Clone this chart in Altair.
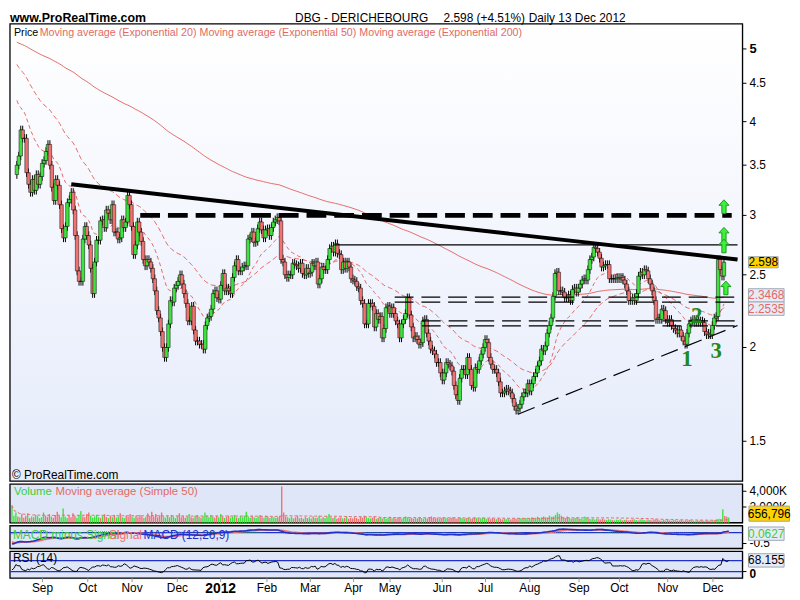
import altair as alt
import pandas as pd

# ---------------- data ----------------
closes = [
    3.50, 3.60, 3.90, 3.80, 3.80, 3.42, 3.30, 3.22, 3.35, 3.24,
    3.40, 3.30, 3.38, 3.52, 3.55, 3.65, 3.73, 3.50, 3.27, 3.14,
    3.35, 3.29, 3.10, 2.88, 2.80, 2.90, 3.12, 3.15, 3.22, 3.05,
    2.82, 2.53, 2.45, 2.45, 2.79, 2.90, 2.82, 2.74, 2.55, 2.36,
    2.60, 2.78, 2.78, 2.95, 2.96, 2.89, 3.05, 3.02, 2.96, 3.10,
    2.85, 2.85, 2.79, 2.80, 2.96, 2.89, 2.94, 3.19, 3.10, 2.90,
    2.66, 2.74, 2.94, 2.85, 2.77, 2.62, 2.57, 2.62, 2.60, 2.55,
    2.47, 2.38, 2.24, 2.19, 2.10, 2.00, 1.94, 2.00, 2.15, 2.31,
    2.30, 2.40, 2.42, 2.45, 2.50, 2.43, 2.36, 2.29, 2.17, 2.17,
    2.27, 2.11, 2.04, 2.04, 2.02, 2.02, 1.99, 2.14, 2.19, 2.20,
    2.25, 2.36, 2.38, 2.33, 2.32, 2.42, 2.51, 2.38, 2.40, 2.38,
    2.36, 2.48, 2.57, 2.62, 2.53, 2.53, 2.56, 2.57, 2.57, 2.79,
    2.80, 2.85, 2.76, 2.77, 2.88, 2.94, 2.87, 2.80, 2.87, 2.88,
    2.82, 2.89, 2.94, 2.96, 2.98, 2.95, 2.62, 2.60, 2.50, 2.48,
    2.50, 2.50, 2.59, 2.58, 2.57, 2.55, 2.59, 2.51, 2.50, 2.55,
    2.51, 2.52, 2.59, 2.57, 2.60, 2.43, 2.47, 2.56, 2.54, 2.54,
    2.62, 2.71, 2.73, 2.68, 2.75, 2.67, 2.66, 2.54, 2.60, 2.55,
    2.60, 2.56, 2.47, 2.46, 2.45, 2.41, 2.40, 2.31, 2.29, 2.15,
    2.15, 2.29, 2.29, 2.27, 2.13, 2.22, 2.18, 2.20, 2.06, 2.12,
    2.26, 2.27, 2.22, 2.26, 2.22, 2.17, 2.15, 2.06, 2.15, 2.18,
    2.22, 2.33, 2.21, 2.13, 2.06, 2.07, 2.05, 2.02, 2.03, 2.17,
    2.18, 2.09, 2.04, 1.99, 1.98, 1.96, 1.91, 1.91, 1.85, 1.81,
    1.85, 1.91, 1.90, 1.89, 1.86, 1.78, 1.73, 1.70, 1.82, 1.87,
    1.87, 1.84, 1.94, 1.87, 1.78, 1.77, 1.88, 1.87, 1.92, 1.96,
    2.00, 2.05, 2.03, 1.94, 1.90, 1.87, 1.87, 1.85, 1.80, 1.74,
    1.74, 1.75, 1.76, 1.75, 1.74, 1.71, 1.67, 1.65, 1.66, 1.68,
    1.72, 1.74, 1.74, 1.79, 1.75, 1.79, 1.83, 1.85, 1.89, 1.92,
    1.99, 1.98, 2.01, 2.09, 2.14, 2.19, 2.34, 2.51, 2.52, 2.38,
    2.38, 2.37, 2.33, 2.33, 2.35, 2.31, 2.39, 2.40, 2.37, 2.40,
    2.43, 2.46, 2.47, 2.46, 2.54, 2.62, 2.64, 2.72, 2.71, 2.68,
    2.63, 2.56, 2.57, 2.58, 2.58, 2.47, 2.47, 2.47, 2.47, 2.48,
    2.47, 2.48, 2.46, 2.43, 2.38, 2.31, 2.31, 2.33, 2.31, 2.36,
    2.49, 2.52, 2.50, 2.54, 2.53, 2.47, 2.43, 2.38, 2.31, 2.18,
    2.19, 2.18, 2.25, 2.24, 2.18, 2.16, 2.18, 2.14, 2.12, 2.11,
    2.09, 2.11, 2.07, 2.04, 2.02, 2.09, 2.15, 2.17, 2.18, 2.16,
    2.18, 2.16, 2.17, 2.16, 2.10, 2.08, 2.09, 2.08, 2.14, 2.19,
    2.20, 2.62, 2.54, 2.49, 2.598,
]
first_open = 3.40

volumes_k = [
    2200, 900, 1300, 800, 700, 1100, 650, 900, 1200, 600, 800, 700, 1000, 850, 600, 700, 1300, 900, 750, 1100,
    800, 650, 1000, 1400, 900, 700, 1800, 800, 600, 950, 700, 1200, 850, 650, 1000, 1500, 800, 700, 1100, 1300,
    900, 650, 800, 1000, 700, 600, 850, 1100, 750, 600, 900, 700, 1000, 650, 800, 1200, 700, 600, 900, 750,
    1100, 800, 650, 900, 700, 1000, 800, 600, 750, 1200, 900, 1400, 800, 1100, 700, 950, 1300, 800, 650, 900,
    700, 1000, 800, 600, 850, 1200, 700, 900, 650, 800, 1100, 700, 600, 900, 1000, 750, 650, 800, 1300, 900,
    700, 1000, 800, 650, 900, 700, 1100, 800, 600, 750, 900, 650, 800, 1000, 700, 600, 850, 700, 900, 1400,
    800, 650, 900, 700, 600, 800, 1000, 700, 650, 900, 750, 600, 800, 700, 650, 700, 900, 4600, 1300, 800,
    700, 600, 800, 550, 700, 900, 600, 650, 500, 750, 600, 700, 550, 800, 600, 650, 900, 550, 700, 600,
    800, 1100, 700, 600, 750, 500, 650, 700, 550, 600, 800, 500, 650, 550, 700, 600, 500, 750, 650, 900,
    700, 600, 550, 650, 800, 500, 600, 700, 550, 650, 500, 600, 750, 550, 650, 500, 700, 600, 550, 650,
    800, 700, 550, 600, 500, 650, 550, 700, 600, 500, 650, 550, 700, 800, 600, 550, 650, 500, 600, 700,
    550, 650, 500, 600, 700, 550, 500, 650, 600, 550, 500, 600, 650, 500, 550, 700, 600, 500, 550, 650,
    600, 500, 550, 450, 600, 500, 450, 550, 500, 400, 550, 450, 500, 400, 450, 550, 500, 450, 600, 550,
    500, 600, 450, 550, 700, 600, 650, 750, 600, 700, 800, 700, 650, 900, 750, 800, 1000, 1300, 1100, 900,
    700, 600, 800, 650, 500, 550, 600, 700, 500, 550, 450, 800, 600, 500, 450, 550, 400, 500, 450, 400,
    500, 400, 350, 450, 400, 350, 300, 400, 350, 450, 300, 350, 400, 300, 350, 400, 450, 350, 300, 400,
    450, 350, 300, 400, 350, 300, 400, 450, 350, 300, 250, 350, 300, 400, 300, 250, 350, 300, 250, 300,
    350, 250, 300, 250, 350, 300, 250, 200, 300, 250, 300, 250, 200, 300, 250, 200, 300, 350, 400, 500,
    450, 1700, 870, 750, 656.796,
]

month_idx = [15.5, 38.5, 61, 84, 106, 129.5, 151.5, 173.5, 192, 218.5, 240.5, 263, 288, 308.5, 333, 356]
month_lbl = ["Sep", "Oct", "Nov", "Dec", "2012", "Feb", "Mar", "Apr", "May", "Jun", "Jul", "Aug",
             "Sep", "Oct", "Nov", "Dec"]
price_ticks = [1.5, 2, 2.5, 3, 3.5, 4, 4.5, 5]
vol_ticks, vol_tick_lbl = [2000, 4000], ["2,000K", "4,000K"]
macd_ticks, macd_tick_lbl = [-0.5], ["-0.5"]
rsi_levels = [70, 30]

# hand-drawn annotation lines: (bar index, price)
resist_i, resist_v = [28, 371], [3.30, 2.62]
level3_i, level3_v = [63.5, 368], [3.0, 3.0]
top_i, top_v = [163.5, 371], [2.74, 2.74]
dash_a1_i, dash_a1_v = [194.5, 371], [2.334, 2.334]
dash_a2_i, dash_a2_v = [194.5, 371], [2.299, 2.299]
dash_b1_i, dash_b1_v = [208.5, 371], [2.17, 2.17]
dash_b2_i, dash_b2_v = [208.5, 371], [2.138, 2.138]
support_i, support_v = [258, 371], [1.63, 2.14]
arrow_i, arrow_v = [364, 364, 364, 365], [3.08, 2.83, 2.73, 2.40]
wave_txt, wave_i, wave_v = ["1", "2", "3"], [345, 350, 360], [1.93, 2.20, 1.98]

box_main_txt, box_main_v = ["2.3468", "2.2535"], [2.3468, 2.2535]
last_txt, last_v = "2.598", 2.598
vol_last_txt, vol_last_v = "656,796", 656.796
macd_last_txt = "0.0627"
rsi_last_txt = "68.155"

assert len(closes) == len(volumes_k), (len(closes), len(volumes_k))

# ---------------- derived series ----------------
N = len(closes)
idx = list(range(N))
opens = [first_open] + closes[:-1]
WICK = 0.013
highs = [max(o, c) * (1 + WICK) for o, c in zip(opens, closes)]
lows = [min(o, c) * (1 - WICK) for o, c in zip(opens, closes)]
direc = ["up" if c >= o else "down" for o, c in zip(opens, closes)]


def ema(vals, n, seed):
    a = 2.0 / (n + 1)
    e = seed
    out = []
    for v in vals:
        e += a * (v - e)
        out.append(e)
    return out


ema20 = ema(closes, 20, 4.35)
ema50 = ema(closes, 50, 4.82)
ema200 = ema(closes, 200, 5.12)
e12 = ema(closes, 12, 3.98)
e26 = ema(closes, 26, 4.50)
macd = [a - b for a, b in zip(e12, e26)]
signal = ema(macd, 9, -0.42)
hist = [m - s for m, s in zip(macd, signal)]

rsi = []
ag, al, prev = 0.02, 0.05, first_open
for c in closes:
    d = c - prev
    ag = (ag * 13 + max(d, 0)) / 14
    al = (al * 13 + max(-d, 0)) / 14
    rsi.append(100 - 100 / (1 + ag / al))
    prev = c

volma = []
for k in range(N):
    w = volumes_k[max(0, k - 49):k + 1]
    volma.append(sum(w) / len(w))

df = pd.DataFrame({
    "i": idx, "open": opens, "close": closes, "high": highs, "low": lows, "dir": direc,
    "ema20": ema20, "ema50": ema50, "ema200": ema200, "zero": [0.0] * N,
    "vol": volumes_k, "volma": volma, "macd": macd, "signal": signal, "hist": hist, "rsi": rsi,
})
one = pd.DataFrame({"k": [0]})

# ---------------- styling ----------------
W = 740
H_MAIN, H_VOL, H_MACD, H_RSI = 462, 39, 23, 27
GREEN = "#3fe23f"
RED = "#f07272"
MA_RED = "#e36a64"
BLUE = "#2030c8"
FONT = "Liberation Sans"

xs = alt.Scale(domain=[-1, 371], nice=False, zero=False)
X = alt.X("i:Q", scale=xs, axis=None)
ys = alt.Scale(type="log", domain=[1.327, 5.40], nice=False, zero=False)
vs = alt.Scale(domain=[0, 4900], nice=False, zero=True)
ms = alt.Scale(domain=[-0.73, 0.32], nice=False, zero=False)
rs = alt.Scale(domain=[5.6, 103.8], nice=False, zero=False)
dir_color = alt.Color("dir:N", scale=alt.Scale(domain=["up", "down"], range=[GREEN, RED]), legend=None)


def bg(h, top, bottom):
    grad = alt.LinearGradient(gradient="linear",
                              stops=[alt.GradientStop(color=top, offset=0),
                                     alt.GradientStop(color=bottom, offset=1)],
                              x1=0, x2=0, y1=0, y2=1)
    return alt.Chart(one).mark_rect(fill=grad, stroke="black", strokeWidth=1.3).encode(
        x=alt.value(0), x2=alt.value(W), y=alt.value(0), y2=alt.value(h))


def seg(i_list, v_list, **kw):
    d = pd.DataFrame({"i": i_list, "v": v_list})
    return alt.Chart(d).mark_line(clip=True, **kw).encode(
        x=alt.X("i:Q", scale=xs, axis=None), y=alt.Y("v:Q", scale=ys, axis=None))


def label(txt, x, y, color="black", size=11, font=FONT, weight="normal", align="left"):
    return alt.Chart(one).mark_text(text=txt, color=color, fontSize=size, font=font,
                                    fontWeight=weight, align=align, baseline="middle").encode(
        x=alt.value(x), y=alt.value(y))


def hrule(vals, scale, **kw):
    d = pd.DataFrame({"v": vals})
    return alt.Chart(d).mark_rule(**kw).encode(y=alt.Y("v:Q", scale=scale, axis=None))


def right_axis(vals, texts, scale, size=12, weight="normal", dy=0):
    d = pd.DataFrame({"v": vals, "t": texts})
    ticks = alt.Chart(d).mark_rule(color="black", strokeWidth=1).encode(
        x=alt.value(W), x2=alt.value(W + 4), y=alt.Y("v:Q", scale=scale, axis=None))
    txt = alt.Chart(d).mark_text(align="left", baseline="middle", fontSize=size, font=FONT,
                                 fontWeight=weight, color="black", dy=dy).encode(
        x=alt.value(W + 7), y=alt.Y("v:Q", scale=scale, axis=None), text="t:N")
    return [ticks, txt]


BOX = "M-1,-0.375 L1,-0.375 L1,0.375 L-1,0.375 Z"
ARROW = "M0,-1 L0.72,-0.22 L0.3,-0.22 L0.3,0.95 L-0.3,0.95 L-0.3,-0.22 L-0.72,-0.22 Z"
BOX_X = 764

# ---------------- main price panel ----------------
base = alt.Chart(df)
ema200_l = base.mark_line(color=MA_RED, strokeWidth=1, clip=True).encode(
    x=X, y=alt.Y("ema200:Q", scale=ys, axis=None))
ema50_l = base.mark_line(color=MA_RED, strokeWidth=1, strokeDash=[5, 3], clip=True).encode(
    x=X, y=alt.Y("ema50:Q", scale=ys, axis=None))
ema20_l = base.mark_line(color=MA_RED, strokeWidth=1, strokeDash=[4, 3], clip=True).encode(
    x=X, y=alt.Y("ema20:Q", scale=ys, axis=None))
wicks = base.mark_rule(color="black", strokeWidth=1).encode(
    x=X, y=alt.Y("low:Q", scale=ys, axis=None), y2="high:Q")
bodies = base.mark_bar(size=3.5, stroke="black", strokeWidth=0.5).encode(
    x=X, y=alt.Y("open:Q", scale=ys, axis=None), y2="close:Q", color=dir_color)

lines = [
    seg(resist_i, resist_v, color="black", strokeWidth=4),
    seg(level3_i, level3_v, color="black", strokeWidth=5, strokeDash=[20, 8]),
    seg(top_i, top_v, color="black", strokeWidth=1.2),
    seg(dash_a1_i, dash_a1_v, color="black", strokeWidth=1.3, strokeDash=[19, 8]),
    seg(dash_a2_i, dash_a2_v, color="black", strokeWidth=1.3, strokeDash=[19, 8]),
    seg(dash_b1_i, dash_b1_v, color="black", strokeWidth=1.3, strokeDash=[19, 8]),
    seg(dash_b2_i, dash_b2_v, color="black", strokeWidth=1.3, strokeDash=[19, 8]),
    seg(support_i, support_v, color="black", strokeWidth=1.2, strokeDash=[18, 8]),
]

arrows = alt.Chart(pd.DataFrame({"i": arrow_i, "v": arrow_v})).mark_point(
    shape=ARROW, size=200, filled=True, fill="#3cf03c", stroke="#1a9a1a", strokeWidth=1, opacity=1).encode(
    x=alt.X("i:Q", scale=xs, axis=None), y=alt.Y("v:Q", scale=ys, axis=None))

waves = alt.Chart(pd.DataFrame({"t": wave_txt, "i": wave_i, "v": wave_v})).mark_text(
    font="Liberation Serif", fontWeight="bold", fontSize=23, color="#1f8a1f").encode(
    x=alt.X("i:Q", scale=xs, axis=None), y=alt.Y("v:Q", scale=ys, axis=None), text="t:N")

box_df = pd.DataFrame({"t": box_main_txt, "v": box_main_v})
ema_boxes = alt.Chart(box_df).mark_point(shape=BOX, size=1296, filled=True, fill="#e6ebf6",
                                         stroke="#9aa6b8", strokeWidth=1, opacity=1).encode(
    x=alt.value(BOX_X), y=alt.Y("v:Q", scale=ys, axis=None))
ema_box_txt = alt.Chart(box_df).mark_text(color=MA_RED, fontSize=12, font=FONT).encode(
    x=alt.value(BOX_X), y=alt.Y("v:Q", scale=ys, axis=None), text="t:N")
last_df = pd.DataFrame({"t": [last_txt], "v": [last_v]})
last_box = alt.Chart(last_df).mark_point(shape=BOX, size=900, filled=True, fill="#ffd200",
                                         stroke="#9aa6b8", strokeWidth=1, opacity=1).encode(
    x=alt.value(BOX_X - 3), y=alt.Y("v:Q", scale=ys, axis=None))
last_box_txt = alt.Chart(last_df).mark_text(color="black", fontSize=12, font=FONT).encode(
    x=alt.value(BOX_X - 3), y=alt.Y("v:Q", scale=ys, axis=None), text="t:N")

price_lbl = [("%g" % v) for v in price_ticks]
main = alt.layer(
    bg(H_MAIN, "#ffffff", "#e5ebfb"),
    ema200_l, ema50_l, ema20_l, wicks, bodies, *lines, arrows, waves,
    *right_axis(price_ticks[:-1], price_lbl[:-1], ys),
    *right_axis(price_ticks[-1:], price_lbl[-1:], ys, size=13, weight="bold"),
    ema_boxes, ema_box_txt, last_box, last_box_txt,
    label("Price", 4, 9, size=10.8),
    label("Moving average (Exponential 20) Moving average (Exponential 50) Moving average (Exponential 200)",
          30, 9, color=MA_RED, size=10.8),
    label("\u00a9 ProRealTime.com", 2, 456, size=12),
    label("www.ProRealTime.com", 0, -6, size=12.5, weight="bold"),
    label("DBG - DERICHEBOURG", 288, -6, size=12),
    label("2.598 (+4.51%)", 438, -6, size=12),
    label("Daily  13 Dec 2012", 524, -6, size=12),
).properties(width=W, height=H_MAIN)

# ---------------- volume panel ----------------
vol_bars = base.mark_rule(strokeWidth=1.4).encode(
    x=X, y=alt.Y("vol:Q", scale=vs, axis=None), y2="zero:Q", color=dir_color)
vol_ma = base.mark_line(color=MA_RED, strokeWidth=1, strokeDash=[3, 2]).encode(
    x=X, y=alt.Y("volma:Q", scale=vs, axis=None))
vlast_df = pd.DataFrame({"t": [vol_last_txt], "v": [vol_last_v]})
vol_box = alt.Chart(vlast_df).mark_point(shape=BOX, size=1681, filled=True, fill="#ffd200",
                                         stroke="#9aa6b8", strokeWidth=1, opacity=1, yOffset=-4).encode(
    x=alt.value(BOX_X + 3), y=alt.Y("v:Q", scale=vs, axis=None))
vol_box_txt = alt.Chart(vlast_df).mark_text(color="black", fontSize=12, font=FONT, dy=-4).encode(
    x=alt.value(BOX_X + 3), y=alt.Y("v:Q", scale=vs, axis=None), text="t:N")
vol = alt.layer(
    bg(H_VOL, "#dfe6f8", "#dfe6f8"), vol_bars, vol_ma,
    *right_axis(vol_ticks, vol_tick_lbl, vs), vol_box, vol_box_txt,
    label("Volume", 4, 8, color="#3ccc3c", size=11.5),
    label("Moving average (Simple 50)", 46, 8, color=MA_RED, size=11.5),
).properties(width=W, height=H_VOL)

# ---------------- MACD panel ----------------
macd_zero = hrule([0], ms, color=BLUE, strokeWidth=1.2)
macd_hist = base.mark_rule(color="#3ccc3c", strokeWidth=1, clip=True).encode(
    x=X, y=alt.Y("hist:Q", scale=ms, axis=None), y2="zero:Q")
macd_sig = base.mark_line(color=RED, strokeWidth=1.8, clip=True).encode(
    x=X, y=alt.Y("signal:Q", scale=ms, axis=None))
macd_line = base.mark_line(color=BLUE, strokeWidth=1.6, clip=True).encode(
    x=X, y=alt.Y("macd:Q", scale=ms, axis=None))
macd_box = alt.Chart(one).mark_point(shape=BOX, size=1296, filled=True, fill="#e6ebf6",
                                     stroke="#9aa6b8", strokeWidth=1, opacity=1).encode(
    x=alt.value(BOX_X), y=alt.value(8))
macd_panel = alt.layer(
    bg(H_MACD, "#dfe6f8", "#dfe6f8"), macd_zero, macd_hist, macd_sig, macd_line,
    *right_axis(macd_ticks, macd_tick_lbl, ms),
    label("MACD minus Signal", 3, 9, color="#3ccc3c", size=12),
    label("Signal", 100, 9, color=RED, size=12),
    label("MACD (12,26,9)", 135, 9, color=BLUE, size=12),
    macd_box, label(macd_last_txt, BOX_X, 8, color="#3ccc3c", size=12, align="center"),
).properties(width=W, height=H_MACD)

# ---------------- RSI panel ----------------
rsi_lv = hrule(rsi_levels, rs, color=BLUE, strokeWidth=1.2)
rsi_line = base.mark_line(color="black", strokeWidth=1, clip=True).encode(
    x=X, y=alt.Y("rsi:Q", scale=rs, axis=None))
rsi_box = alt.Chart(one).mark_point(shape=BOX, size=1296, filled=True, fill="#e6ebf6",
                                    stroke="#9aa6b8", strokeWidth=1, opacity=1).encode(
    x=alt.value(BOX_X), y=alt.value(9))
mdf = pd.DataFrame({"i": month_idx, "t": month_lbl})
m_ticks = alt.Chart(mdf).mark_rule(color="#999999", strokeWidth=1).encode(
    x=alt.X("i:Q", scale=xs, axis=None), y=alt.value(H_RSI), y2=alt.value(H_RSI + 4))
m_text = alt.Chart(mdf).transform_filter("datum.t != '2012'").mark_text(
    baseline="top", fontSize=12, font=FONT, color="black").encode(
    x=alt.X("i:Q", scale=xs, axis=None), y=alt.value(H_RSI + 5), text="t:N")
m_year = alt.Chart(mdf).transform_filter("datum.t == '2012'").mark_text(
    baseline="top", fontSize=14, font=FONT, fontWeight="bold", color="black").encode(
    x=alt.X("i:Q", scale=xs, axis=None), y=alt.value(H_RSI + 4), text="t:N")
rsi_panel = alt.layer(
    bg(H_RSI, "#dfe6f8", "#dfe6f8"), rsi_lv, rsi_line,
    *right_axis([30], ["0"], rs, size=12, weight="bold", dy=2),
    label("RSI (14)", 3, 7, size=12), rsi_box,
    label(rsi_last_txt, BOX_X, 9, size=12, align="center"),
    m_ticks, m_text, m_year,
).properties(width=W, height=H_RSI)

chart = alt.vconcat(main, vol, macd_panel, rsi_panel, spacing=3, bounds="flush").properties(
    padding={"left": 0, "top": 0, "right": 0, "bottom": 0}
).configure_view(stroke="transparent").configure(background="white")

chart.save("out.html", embed_options={"renderer": "svg", "actions": False})
